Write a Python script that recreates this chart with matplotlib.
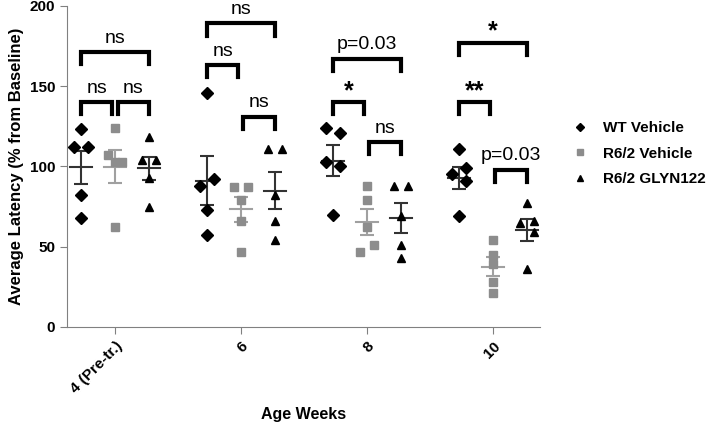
import numpy as np
import matplotlib.pyplot as plt

plt.rcParams['font.family'] = ['Liberation Sans', 'DejaVu Sans']

ages = ['4 (Pre-tr.)', '6', '8', '10']
groups = ['WT Vehicle', 'R6/2 Vehicle', 'R6/2 GLYN122']

wt_vehicle = [
    [123, 112, 112, 82, 68],
    [146, 92, 88, 73, 57],
    [124, 121, 103, 100, 70],
    [111, 99, 95, 91, 69],
]
r62_vehicle = [
    [124, 107, 103, 103, 62],
    [87, 87, 79, 66, 47],
    [88, 79, 62, 51, 47],
    [54, 45, 39, 28, 21],
]
r62_glyn = [
    [118, 104, 104, 93, 75],
    [111, 111, 82, 66, 54],
    [88, 88, 69, 51, 43],
    [77, 65, 66, 59, 36],
]

# (age index, left group, right group, bracket height, label)
brackets = [
    (0, 0, 1, 140, 'ns'), (0, 1, 2, 140, 'ns'), (0, 0, 2, 171, 'ns'),
    (1, 0, 1, 163, 'ns'), (1, 1, 2, 131, 'ns'), (1, 0, 2, 189, 'ns'),
    (2, 0, 1, 140, '*'), (2, 1, 2, 115, 'ns'), (2, 0, 2, 167, 'p=0.03'),
    (3, 0, 1, 140, '**'), (3, 1, 2, 98, 'p=0.03'), (3, 0, 2, 177, '*'),
]

# horizontal scatter of overlapping points (-1 left, 0 centre, 1 right)
spread = [
    [[0, -1, 1, 0, 0], [0, 1, -1, 0, 0], [-1, 1, -1, 1, 0], [0, 1, -1, 1, 0]],
    [[0, -1, 0, 1, 0], [-1, 1, 0, 0, 0], [0, 0, 0, 1, -1], [0, 0, 0, 0, 0]],
    [[0, -1, 1, 0, 0], [-1, 1, 0, 0, 0], [-1, 1, 0, 0, 0], [0, -1, 1, 1, 0]],
]

series = [wt_vehicle, r62_vehicle, r62_glyn]
offsets = [-0.27, 0.0, 0.27]
markers = ['D', 's', '^']
msizes = [6, 5.5, 6]
colors = ['black', '#8c8c8c', 'black']
err_colors = ['#333333', '#a0a0a0', '#333333']

fig = plt.figure(figsize=(7.09, 4.26), dpi=100)
ax = fig.add_axes([0.0945, 0.2324, 0.667, 0.754])

for s, data in enumerate(series):
    for g, vals in enumerate(data):
        vals = np.array(vals, dtype=float)
        xc = g + offsets[s]
        xs = xc + 0.055 * np.array(spread[s][g])
        ax.plot(xs, vals, linestyle='none', marker=markers[s], ms=msizes[s],
                color=colors[s], label=groups[s] if g == 0 else None, zorder=3)
        m = vals.mean()
        sem = vals.std(ddof=1) / np.sqrt(len(vals))
        ax.plot([xc - 0.09, xc + 0.09], [m, m], color=err_colors[s], lw=1.5, zorder=2)
        ax.errorbar(xc, m, yerr=sem, color=err_colors[s], capsize=5, capthick=1.5,
                    elinewidth=1.5, zorder=2)

for g, a, b, h, lab in brackets:
    x1 = g + offsets[a] + (0.02 if b - a == 1 and a == 1 else 0)
    x2 = g + offsets[b] - (0.02 if b - a == 1 and a == 0 else 0)
    ax.plot([x1, x1, x2, x2], [h - 7.5, h, h, h - 7.5], color='black', lw=3,
            solid_joinstyle='miter', clip_on=False, zorder=4)
    if '*' in lab:
        ax.text((x1 + x2) / 2, h - 0.5, lab, ha='center', va='bottom',
                fontsize=18, fontweight='bold')
    else:
        ax.text((x1 + x2) / 2, h + 3.5, lab, ha='center', va='bottom', fontsize=14)

ax.set_xlim(-0.381, 3.373)
ax.set_ylim(0, 200)
ax.set_yticks([0, 50, 100, 150, 200])
ax.set_xticks(range(len(ages)))
ax.set_xticklabels(ages, rotation=45, ha='right', rotation_mode='anchor',
                   fontweight='bold', fontsize=11)
for t in ax.get_yticklabels():
    t.set_fontweight('bold')
    t.set_fontsize(11)
ax.set_xlabel('Age Weeks', fontweight='bold', fontsize=11.5)
ax.xaxis.set_label_coords(0.5, -0.25)
ax.set_ylabel('Average Latency (% from Baseline)', fontweight='bold', fontsize=12)
ax.spines['top'].set_visible(False)
ax.spines['right'].set_visible(False)
for sp in ['left', 'bottom']:
    ax.spines[sp].set_color('#808080')
ax.tick_params(colors='#808080', labelcolor='black', length=5)

ax.legend(loc='center left', bbox_to_anchor=(1.04, 0.54), frameon=False,
          prop={'weight': 'bold', 'size': 11}, handlelength=1.0,
          handletextpad=1.0, labelspacing=0.75, markerscale=0.75)

fig.savefig('out.png', dpi=100)
